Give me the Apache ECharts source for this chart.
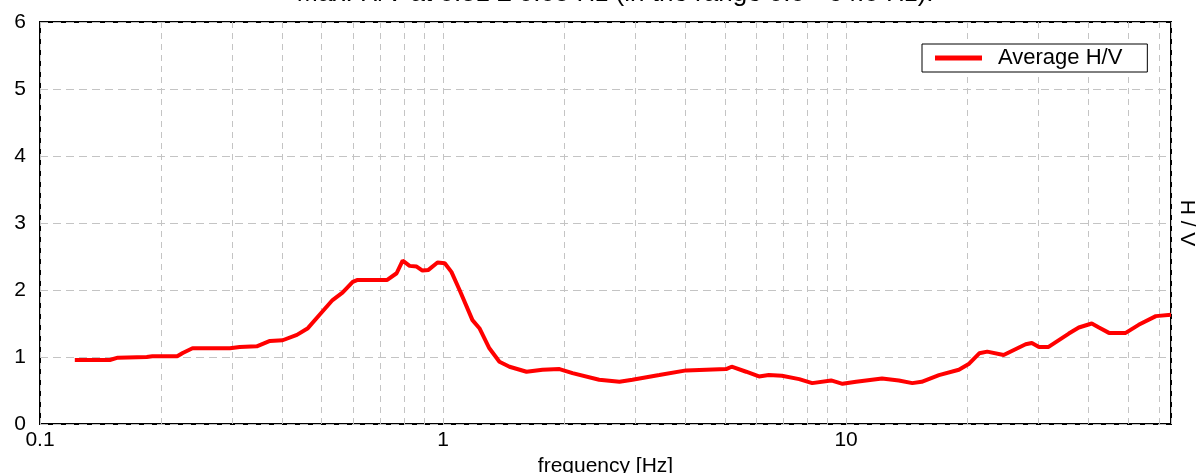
<!DOCTYPE html>
<html>
<head>
<meta charset="utf-8">
<script src="https://cdn.jsdelivr.net/npm/echarts@6/dist/echarts.min.js"></script>
<style>html,body{margin:0;padding:0;background:#fff;}#c{width:1198px;height:473px;}</style>
</head>
<body>
<div id="c"></div>
<script>
const titleText = 'Max. H/V at 0.81 \u00b1 0.05 Hz (in the range 0.0 - 64.0 Hz).';
const seriesName = 'Average H/V';
const xAxisName = 'frequency [Hz]';
const yAxisName = 'H / V';
const freqs = [0.122,0.149,0.156,0.184,0.19,0.219,0.226,0.239,0.296,0.313,0.345,0.372,0.400,0.434,0.462,0.494,0.532,0.563,0.597,0.614,0.727,0.767,0.794,0.826,0.86,0.889,0.92,0.969,1.01,1.049,1.099,1.183,1.231,1.303,1.38,1.462,1.611,1.765,1.945,2.095,2.44,2.74,2.95,3.44,4.01,5.04,5.2,5.65,6.08,6.43,6.93,7.65,8.24,9.18,9.8,10.59,12.28,13.52,14.6,15.4,17.0,19.05,20.2,21.4,22.4,24.6,27.9,28.9,30.1,31.8,35.7,37.8,40.7,42.4,44.9,49.4,53.2,58.7,64];
const hv = [0.955,0.955,0.99,1.0,1.01,1.01,1.06,1.13,1.13,1.15,1.16,1.24,1.25,1.33,1.43,1.63,1.85,1.96,2.12,2.15,2.15,2.25,2.44,2.36,2.35,2.29,2.30,2.41,2.40,2.27,2.0,1.55,1.43,1.13,0.93,0.855,0.78,0.81,0.82,0.76,0.66,0.63,0.66,0.73,0.80,0.82,0.855,0.78,0.71,0.73,0.72,0.67,0.61,0.65,0.60,0.63,0.68,0.65,0.61,0.63,0.73,0.81,0.90,1.055,1.08,1.03,1.19,1.21,1.15,1.15,1.35,1.44,1.50,1.44,1.36,1.36,1.48,1.61,1.63];
const minorGrid = [0.2,0.3,0.4,0.5,0.6,0.7,0.8,0.9,2,3,4,5,6,7,8,9,20,30,40,50,60];
const xTickLabels = [0.1, 1, 10];

const FONT = '"Liberation Sans", Arial, sans-serif';
const gridColor = '#c4c4c4';
const chart = echarts.init(document.getElementById('c'));
chart.setOption({
  animation: false,
  backgroundColor: '#fff',
  textStyle: {fontFamily: FONT},
  graphic: [{
    type: 'text', x: 615, y: -19,
    style: {text: titleText, font: '26px ' + FONT, fill: '#000', textAlign: 'center', textVerticalAlign: 'top'}
  }],
  legend: {
    left: 922, top: 44,
    padding: [3, 25, 3, 13],
    borderColor: '#000', borderWidth: 1, backgroundColor: '#fff',
    itemWidth: 47, itemHeight: 5,
    icon: 'rect',
    textStyle: {fontSize: 22, fontFamily: FONT, color: '#000', padding: [0, 0, 0, 11]},
    data: [seriesName]
  },
  grid: {left: 40, right: 27, top: 22, bottom: 49, outerBoundsMode: 'none', containLabel: false, show: true, borderColor: '#000', borderWidth: 2, backgroundColor: '#fff'},
  xAxis: {
    type: 'log', logBase: 10, min: 0.1, max: 64,
    name: xAxisName, nameLocation: 'middle', nameGap: 27,
    nameTextStyle: {fontSize: 21, fontFamily: FONT, color: '#000'},
    axisLine: {show: false}, axisTick: {show: false},
    axisLabel: {
      fontSize: 21, fontFamily: FONT, color: '#000', margin: 6,
      formatter: function (v) {
        for (const t of xTickLabels) { if (Math.abs(v - t) < 1e-9 * Math.max(1, t)) return String(t); }
        return '';
      }
    },
    splitLine: {show: true, lineStyle: {color: gridColor, type: [6, 5], width: 1}}
  },
  yAxis: [{
    type: 'value', min: 0, max: 6, interval: 1,
    axisLine: {show: false}, axisTick: {show: false},
    axisLabel: {fontSize: 21, fontFamily: FONT, color: '#000', margin: 14},
    splitLine: {show: true, lineStyle: {color: gridColor, type: [8, 5], width: 1}}
  }, {
    type: 'value', min: 0, max: 6, interval: 1, position: 'right',
    name: yAxisName, nameLocation: 'middle', nameRotate: -90, nameGap: 5,
    nameTextStyle: {fontSize: 21, fontFamily: FONT, color: '#000'},
    axisLine: {show: false}, axisTick: {show: false}, axisLabel: {show: false}, splitLine: {show: false}
  }],
  series: [{
    name: seriesName, type: 'line',
    data: freqs.map((f, i) => [f, hv[i]]),
    showSymbol: false, symbol: 'none',
    lineStyle: {color: '#ff0000', width: 4},
    itemStyle: {color: '#ff0000'},
    z: 5,
    markLine: {
      silent: true, symbol: ['none', 'none'], label: {show: false},
      lineStyle: {color: gridColor, type: [6, 5], width: 1},
      emphasis: {disabled: true},
      data: minorGrid.map(v => ({xAxis: v})),
      z: 1
    }
  }]
});
</script>
</body>
</html>
